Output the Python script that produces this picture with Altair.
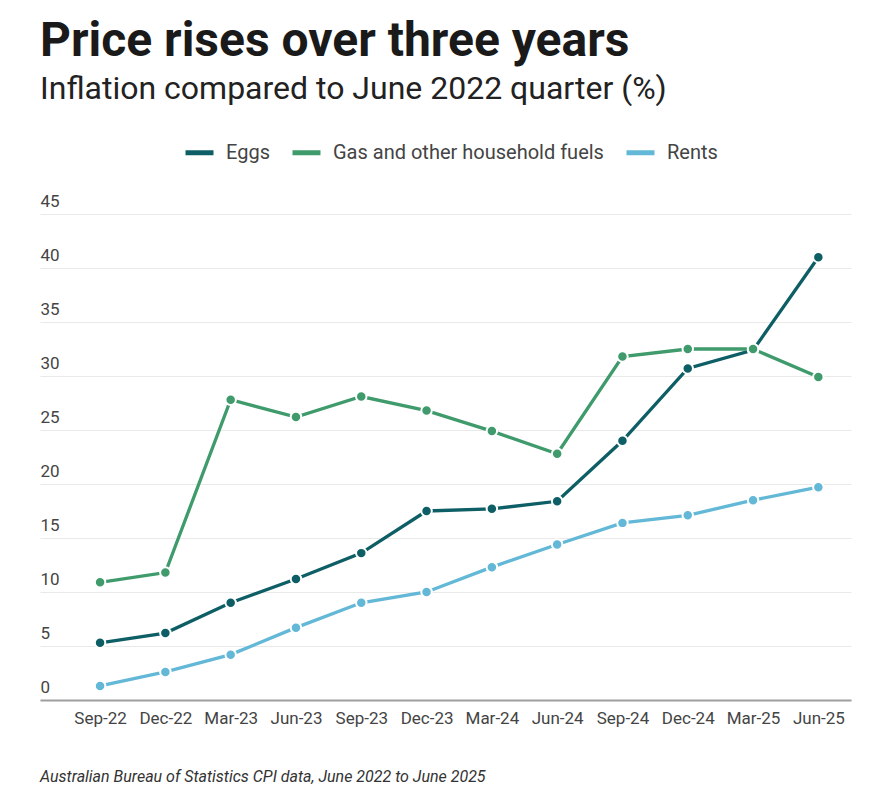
import json
import altair as alt
import pandas as pd

# ---- data ----
QUARTERS = ["Sep-22", "Dec-22", "Mar-23", "Jun-23", "Sep-23", "Dec-23",
            "Mar-24", "Jun-24", "Sep-24", "Dec-24", "Mar-25", "Jun-25"]
EGGS = [5.3, 6.2, 9.0, 11.2, 13.6, 17.5, 17.7, 18.4, 24.0, 30.7, 32.4, 41.0]
GAS = [10.9, 11.8, 27.8, 26.2, 28.1, 26.8, 24.9, 22.8, 31.8, 32.5, 32.5, 29.9]
RENTS = [1.3, 2.6, 4.2, 6.7, 9.0, 10.0, 12.3, 14.4, 16.4, 17.1, 18.5, 19.7]
SERIES = ["Eggs", "Gas and other household fuels", "Rents"]
COLORS = ["#0e5e66", "#3f9a6c", "#62b8d6"]
Y_TICKS = [0, 5, 10, 15, 20, 25, 30, 35, 40, 45]

TITLE = "Price rises over three years"
SUBTITLE = "Inflation compared to June 2022 quarter (%)"
SOURCE = "Australian Bureau of Statistics CPI data, June 2022 to June 2025"

rows = []
for name, vals in zip(SERIES, [EGGS, GAS, RENTS]):
    for i, (q, v) in enumerate(zip(QUARTERS, vals)):
        rows.append({"idx": i, "quarter": q, "series": name, "value": v})
df = pd.DataFrame(rows)

W, H = 811, 486
FONT = "Roboto"

label_expr = json.dumps(QUARTERS) + "[datum.value]"

lines = alt.Chart(df).mark_line(
    strokeWidth=3.3,
    point=alt.OverlayMarkDef(filled=True, size=110, stroke="white", strokeWidth=2, opacity=1),
).encode(
    x=alt.X("idx:Q",
            scale=alt.Scale(domain=[-0.92, 11.5], nice=False, zero=False),
            axis=alt.Axis(values=list(range(len(QUARTERS))), labelExpr=label_expr,
                          grid=False, ticks=False, tickSize=0,
                          domainColor="#9e9e9e", domainWidth=2,
                          labelFont=FONT, labelFontSize=17, labelColor="#444",
                          labelPadding=10, labelFlush=False, labelOverlap=False,
                          title=None)),
    y=alt.Y("value:Q",
            scale=alt.Scale(domain=[0, 45], nice=False),
            axis=alt.Axis(values=Y_TICKS, grid=True, gridColor="#e9e9e9", gridWidth=1,
                          domain=False, ticks=False, tickSize=0,
                          labelAlign="left", labelBaseline="alphabetic",
                          labelPadding=0, labelOffset=-8,
                          labelFont=FONT, labelFontSize=17, labelColor="#444",
                          title=None)),
    color=alt.Color("series:N",
                    scale=alt.Scale(domain=SERIES, range=COLORS),
                    legend=alt.Legend(orient="none", legendX=143, legendY=-78,
                                      direction="horizontal", title=None,
                                      symbolType="stroke", symbolStrokeWidth=5,
                                      symbolSize=784, labelLimit=500,
                                      labelFont=FONT, labelFontSize=20, labelColor="#444",
                                      labelOffset=10, columnPadding=12)),
    order=alt.Order("idx:Q"),
)

source = alt.Chart(pd.DataFrame({"t": [SOURCE]})).mark_text(
    align="left", baseline="alphabetic", font=FONT, fontSize=16,
    fontStyle="italic", color="#333",
).encode(x=alt.value(0), y=alt.value(H + 82), text="t:N")

chart = alt.layer(lines, source).properties(
    width=W, height=H,
    padding={"left": 32, "top": 10, "right": 10, "bottom": 10},
    background="white",
    title=alt.TitleParams(text=TITLE, subtitle=SUBTITLE, anchor="start", frame="group",
                          font=FONT, fontSize=48, fontWeight="bold", color="#1a1a1a",
                          subtitleFont=FONT, subtitleFontSize=32, subtitleColor="#222",
                          subtitlePadding=8, offset=31),
).configure_view(stroke=None)

chart.save("out.html", embed_options={"renderer": "svg", "actions": False})
